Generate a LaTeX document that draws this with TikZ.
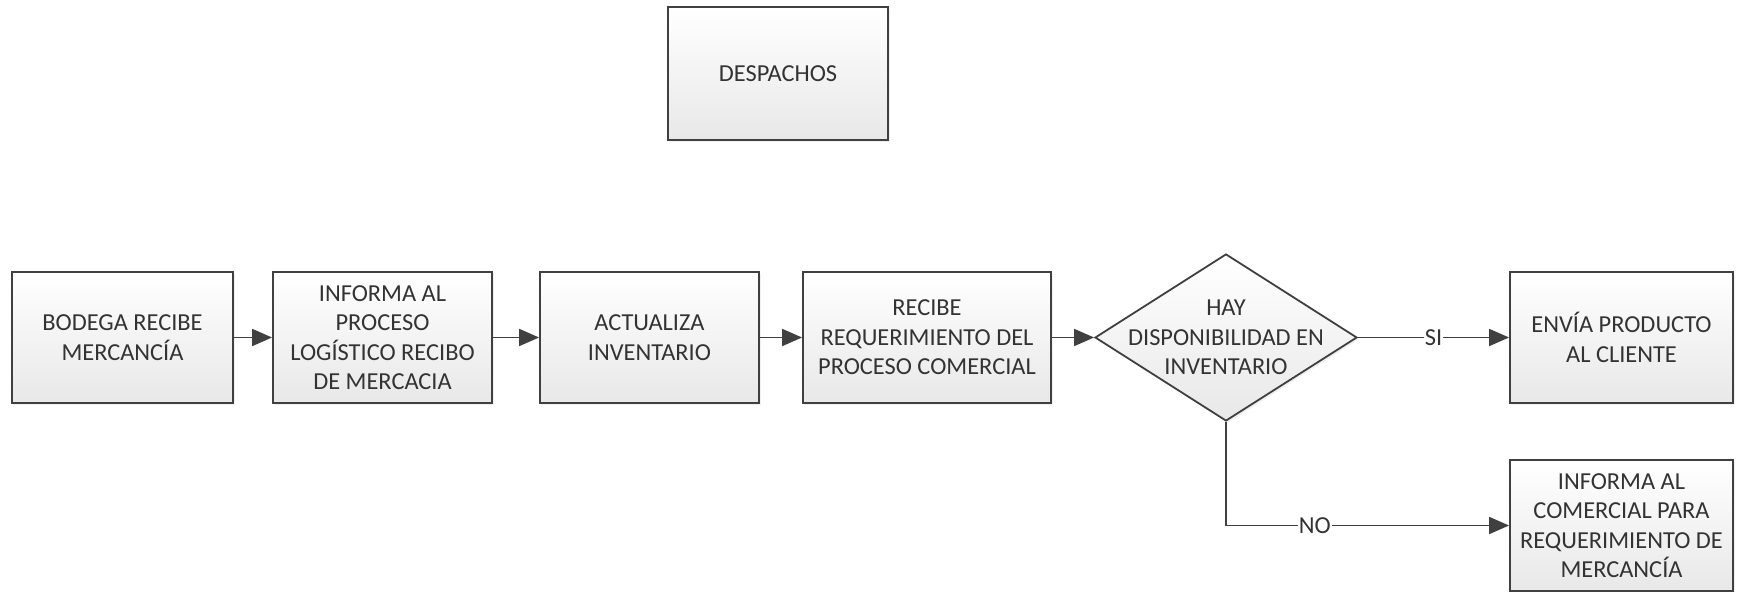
\documentclass[tikz,border=0pt]{standalone}
\usepackage{fontspec}
\setmainfont{Carlito}
\usetikzlibrary{arrows.meta,shapes.geometric,shadows}
\definecolor{edge}{HTML}{404040}
\definecolor{ink}{HTML}{333333}
\tikzset{
  box/.style={draw=edge, line width=0.9pt, top color=white, bottom color=black!9,
    drop shadow={opacity=0.12, shadow xshift=1pt, shadow yshift=-1pt},
    align=center, text=ink, inner sep=0pt, minimum height=65.5pt,
    font=\fontsize{12.2}{14.7}\selectfont},
  dia/.style={diamond, draw=edge, line width=0.9pt, top color=white, bottom color=black!9,
    drop shadow={opacity=0.12, shadow xshift=1pt, shadow yshift=-1pt},
    minimum width=131pt, minimum height=83.5pt, inner sep=0pt},
  txt/.style={align=center, text=ink, font=\fontsize{12.2}{14.7}\selectfont},
  conn/.style={draw=edge, line width=0.9pt, -{Triangle[length=10pt,width=8.5pt]}},
  lab/.style={fill=white, inner sep=0.5pt, text=ink, font=\fontsize{12.2}{14.7}\selectfont}
}
\begin{document}
\begin{tikzpicture}[x=0.5pt,y=-0.5pt]
\useasboundingbox (0,0) rectangle (1737,592);
\node[box, minimum width=110pt, minimum height=66.5pt] (desp) at (778,73.5) {DESPACHOS};
\node[box, minimum width=110.5pt] (b1) at (122.5,337.5) {BODEGA RECIBE\\MERCANCÍA};
\node[box, minimum width=109.5pt] (b2) at (382.5,337.5) {INFORMA AL\\PROCESO\\LOGÍSTICO RECIBO\\DE MERCACIA};
\node[box, minimum width=109.5pt] (b3) at (649.5,337.5) {ACTUALIZA\\INVENTARIO};
\node[box, minimum width=124pt] (b4) at (927,337.5) {RECIBE\\REQUERIMIENTO DEL\\PROCESO COMERCIAL};
\node[dia] (d) at (1226,337.5) {};
\node[txt] (dt) at (1226,337.5) {HAY\\DISPONIBILIDAD EN\\INVENTARIO};
\node[box, minimum width=111.5pt] (e) at (1621.5,337.5) {ENVÍA PRODUCTO\\AL CLIENTE};
\node[box, minimum width=111.5pt] (f) at (1621.5,525.5) {INFORMA AL\\COMERCIAL PARA\\REQUERIMIENTO DE\\MERCANCÍA};
\draw[conn] (b1) -- (b2);
\draw[conn] (b2) -- (b3);
\draw[conn] (b3) -- (b4);
\draw[conn] (b4) -- (d);
\draw[conn] (d.east) -- node[lab] (si) {SI} (e.west);
\draw[conn] (d.south) |- node[lab, pos=0.657] (no) {NO} (f.west);
\end{tikzpicture}
\end{document}
